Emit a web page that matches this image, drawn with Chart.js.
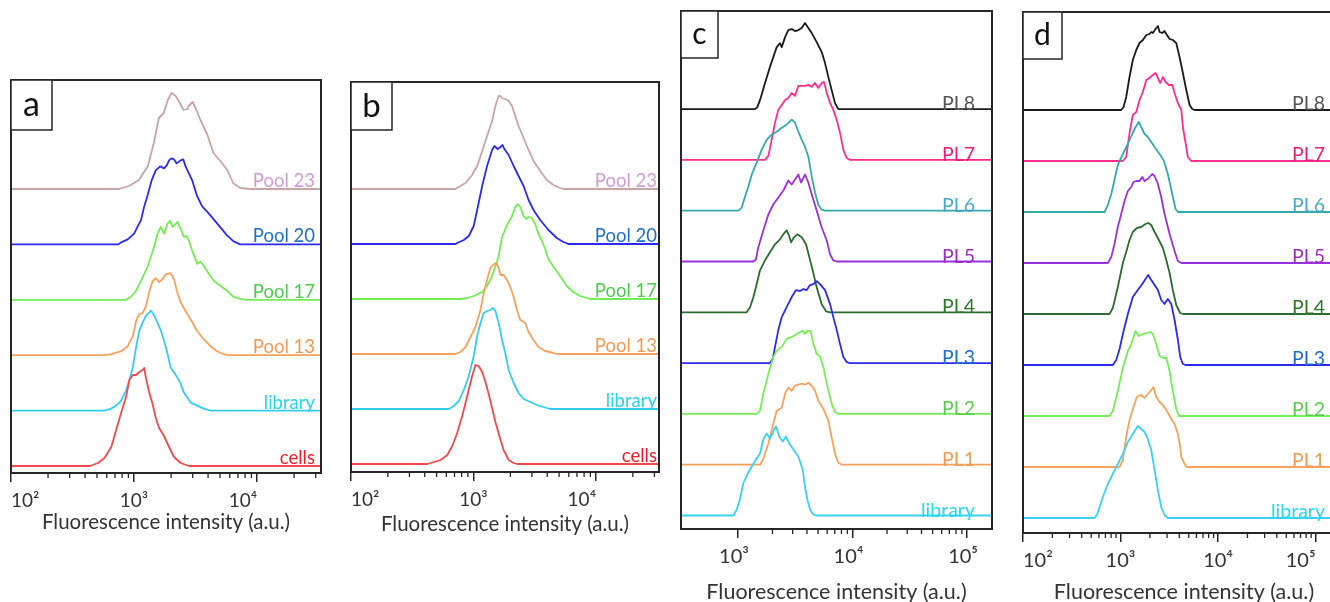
<!DOCTYPE html>
<html>
<head>
<meta charset="utf-8">
<script src="https://cdn.jsdelivr.net/npm/chart.js"></script>
<style>
    body { margin: 0; width: 1330px; height: 602px; overflow: hidden; background: #fff; position: relative; }
    .painel { position: absolute; }
</style>
</head>
<body>
<div class="painel" style="left:0px;top:70px;width:330px;height:465px"><canvas id="graficoA"></canvas></div>
<div class="painel" style="left:340px;top:70px;width:330px;height:467px"><canvas id="graficoB"></canvas></div>
<div class="painel" style="left:670px;top:0px;width:330px;height:605px"><canvas id="graficoC"></canvas></div>
<div class="painel" style="left:1000px;top:0px;width:350px;height:605px"><canvas id="graficoD"></canvas></div>
<script>

// curvas: [log10 da intensidade, contagem]
var aCells = [[2.640,0],[2.707,3],[2.760,8],[2.815,19],[2.855,36],[2.895,53],[2.935,69],[2.962,86],[2.990,91],[3.016,91],[3.043,94],[3.070,96],[3.083,98],[3.097,88],[3.123,74],[3.151,62],[3.177,48],[3.204,38],[3.244,30],[3.285,19],[3.325,9],[3.379,3],[3.446,0]];
var aLibrary = [[2.760,0],[2.815,2],[2.855,5],[2.895,10],[2.935,20],[2.962,30],[2.990,43],[3.016,63],[3.043,80],[3.070,88],[3.097,95],[3.123,98],[3.137,100],[3.164,95],[3.191,88],[3.218,80],[3.244,70],[3.272,57],[3.298,43],[3.325,38],[3.352,33],[3.379,27],[3.406,18],[3.433,13],[3.460,8],[3.514,5],[3.567,2],[3.621,0]];
var aPool13 = [[2.774,0],[2.815,1],[2.895,4],[2.949,9],[2.990,19],[3.016,34],[3.043,41],[3.070,42],[3.097,49],[3.123,63],[3.151,74],[3.177,77],[3.204,73],[3.231,76],[3.258,81],[3.298,82],[3.325,76],[3.352,63],[3.379,53],[3.419,44],[3.460,36],[3.514,24],[3.567,16],[3.621,9],[3.675,4],[3.728,1],[3.766,0]];
var aPool17 = [[2.935,0],[2.976,3],[3.016,9],[3.056,19],[3.110,33],[3.164,53],[3.191,66],[3.218,73],[3.244,66],[3.272,76],[3.293,79],[3.312,73],[3.333,75],[3.352,78],[3.379,71],[3.406,63],[3.427,64],[3.446,59],[3.473,49],[3.514,36],[3.540,38],[3.567,34],[3.607,26],[3.648,19],[3.702,14],[3.756,9],[3.809,3],[3.863,1],[3.917,0]];
var aPool20 = [[2.869,0],[2.895,2],[2.949,5],[3.002,11],[3.030,18],[3.056,24],[3.083,38],[3.110,49],[3.143,64],[3.177,74],[3.212,78],[3.244,76],[3.266,79],[3.285,84],[3.304,86],[3.325,85],[3.347,81],[3.379,84],[3.401,85],[3.419,78],[3.446,71],[3.473,64],[3.514,48],[3.554,38],[3.607,31],[3.675,21],[3.756,9],[3.809,3],[3.863,0]];
var aPool23 = [[2.879,0],[2.960,3],[3.040,9],[3.113,23],[3.161,46],[3.202,71],[3.242,76],[3.274,89],[3.306,96],[3.339,93],[3.363,88],[3.403,79],[3.435,80],[3.444,83],[3.476,87],[3.500,81],[3.540,69],[3.597,54],[3.645,36],[3.702,28],[3.758,19],[3.806,6],[3.863,1],[3.944,0]];

var bCells = [[2.624,0],[2.677,2],[2.732,4],[2.786,9],[2.827,18],[2.867,31],[2.908,48],[2.949,68],[2.989,88],[3.016,99],[3.043,98],[3.071,92],[3.098,82],[3.124,70],[3.152,56],[3.179,42],[3.214,27],[3.246,14],[3.287,4],[3.328,1],[3.355,0]];
var bLibrary = [[2.799,0],[2.840,3],[2.880,8],[2.921,19],[2.962,33],[3.002,53],[3.030,73],[3.057,86],[3.084,96],[3.111,98],[3.138,99],[3.160,101],[3.179,98],[3.206,86],[3.233,69],[3.260,56],[3.287,39],[3.328,26],[3.368,16],[3.409,10],[3.463,7],[3.518,4],[3.572,2],[3.626,0]];
var bPool13 = [[2.854,0],[2.894,2],[2.935,7],[2.976,17],[3.016,27],[3.057,44],[3.084,61],[3.111,74],[3.138,86],[3.160,89],[3.187,91],[3.206,86],[3.220,79],[3.246,79],[3.274,74],[3.301,67],[3.328,57],[3.355,44],[3.382,34],[3.423,31],[3.450,22],[3.490,14],[3.531,7],[3.585,3],[3.653,1],[3.680,0]];
var bPool17 = [[2.894,0],[2.949,1],[3.002,3],[3.071,7],[3.111,13],[3.152,23],[3.206,43],[3.233,62],[3.260,70],[3.287,77],[3.315,83],[3.341,92],[3.360,95],[3.382,92],[3.409,83],[3.431,80],[3.450,82],[3.477,81],[3.504,75],[3.531,65],[3.559,58],[3.585,50],[3.612,40],[3.653,32],[3.707,23],[3.762,13],[3.815,7],[3.870,3],[3.924,1],[3.951,0]];
var bPool20 = [[2.854,0],[2.867,1],[2.921,4],[2.962,8],[3.002,18],[3.030,34],[3.071,58],[3.111,78],[3.152,94],[3.171,98],[3.198,95],[3.220,97],[3.238,99],[3.252,95],[3.287,89],[3.328,78],[3.368,68],[3.409,58],[3.450,44],[3.490,34],[3.545,24],[3.612,14],[3.680,6],[3.734,2],[3.775,0]];
var bPool23 = [[2.854,0],[2.880,2],[2.935,6],[2.989,14],[3.030,23],[3.071,38],[3.111,53],[3.152,68],[3.179,83],[3.206,93],[3.220,93],[3.233,91],[3.260,90],[3.287,88],[3.315,83],[3.341,73],[3.368,63],[3.409,51],[3.450,39],[3.490,28],[3.545,18],[3.599,9],[3.653,4],[3.707,1],[3.734,0]];

var cLibrary = [[2.959,0],[2.989,6],[3.017,16],[3.046,32],[3.081,41],[3.120,49],[3.157,56],[3.192,62],[3.221,76],[3.251,82],[3.279,77],[3.308,84],[3.332,89],[3.361,79],[3.390,74],[3.419,79],[3.448,72],[3.483,66],[3.527,59],[3.565,46],[3.585,29],[3.605,16],[3.629,6],[3.658,1],[3.687,0]];
var cPL1 = [[3.192,0],[3.221,6],[3.265,21],[3.308,41],[3.338,54],[3.382,57],[3.411,71],[3.439,77],[3.469,74],[3.498,79],[3.527,80],[3.556,81],[3.585,80],[3.614,82],[3.644,79],[3.673,74],[3.701,64],[3.745,56],[3.789,44],[3.818,27],[3.847,11],[3.876,2],[3.906,0]];
var cPL2 = [[3.163,0],[3.192,3],[3.221,20],[3.265,40],[3.308,57],[3.338,63],[3.382,67],[3.425,75],[3.469,77],[3.513,80],[3.542,82],[3.565,83],[3.585,80],[3.605,83],[3.635,83],[3.658,70],[3.687,60],[3.716,57],[3.745,47],[3.775,30],[3.818,10],[3.847,2],[3.876,0]];
var cPL3 = [[3.279,0],[3.303,4],[3.323,16],[3.352,33],[3.382,46],[3.425,56],[3.469,66],[3.507,73],[3.542,72],[3.570,74],[3.600,73],[3.629,78],[3.658,79],[3.687,82],[3.716,79],[3.760,73],[3.804,59],[3.832,46],[3.862,33],[3.891,19],[3.920,6],[3.949,1],[3.978,0]];
var cPL4 = [[3.076,0],[3.105,5],[3.134,15],[3.163,28],[3.192,42],[3.236,52],[3.279,60],[3.323,68],[3.367,73],[3.402,79],[3.425,82],[3.445,77],[3.463,70],[3.489,75],[3.518,78],[3.556,75],[3.594,68],[3.623,55],[3.652,42],[3.687,25],[3.731,8],[3.769,1],[3.804,0]];
var cPL5 = [[3.134,0],[3.157,2],[3.177,14],[3.221,31],[3.265,47],[3.308,57],[3.352,64],[3.396,71],[3.439,81],[3.469,77],[3.498,82],[3.527,87],[3.550,79],[3.585,87],[3.614,79],[3.644,67],[3.687,51],[3.731,34],[3.775,21],[3.804,7],[3.832,1],[3.862,0]];
var cPL6 = [[3.003,0],[3.032,3],[3.061,14],[3.090,24],[3.120,36],[3.163,48],[3.207,61],[3.251,71],[3.294,76],[3.338,79],[3.382,83],[3.425,86],[3.469,91],[3.498,88],[3.527,79],[3.556,71],[3.585,64],[3.614,54],[3.644,34],[3.673,18],[3.701,6],[3.731,1],[3.760,0]];
var cPL7 = [[3.236,0],[3.265,4],[3.294,20],[3.323,37],[3.352,50],[3.382,55],[3.411,60],[3.439,62],[3.469,67],[3.498,64],[3.527,74],[3.556,74],[3.585,74],[3.614,75],[3.644,73],[3.673,77],[3.701,72],[3.731,77],[3.751,78],[3.775,67],[3.804,57],[3.832,50],[3.862,40],[3.891,27],[3.920,10],[3.949,2],[3.978,0]];
var cPL8 = [[3.148,0],[3.169,2],[3.198,11],[3.236,26],[3.279,42],[3.308,52],[3.338,62],[3.367,66],[3.382,62],[3.411,72],[3.439,79],[3.469,80],[3.498,78],[3.527,79],[3.556,81],[3.585,86],[3.614,81],[3.644,76],[3.687,67],[3.731,57],[3.760,46],[3.789,32],[3.818,19],[3.847,6],[3.876,0]];

var dLibrary = [[2.733,0],[2.757,3],[2.785,11],[2.818,21],[2.870,34],[2.921,44],[2.972,54],[3.024,64],[3.075,76],[3.126,84],[3.177,92],[3.212,89],[3.246,86],[3.280,79],[3.315,68],[3.349,48],[3.383,28],[3.417,11],[3.451,3],[3.485,0]];
var dPL1 = [[2.990,0],[3.024,7],[3.058,30],[3.092,47],[3.133,60],[3.167,70],[3.212,72],[3.246,69],[3.280,73],[3.315,77],[3.338,80],[3.366,70],[3.400,65],[3.434,62],[3.469,57],[3.520,48],[3.554,43],[3.588,33],[3.612,20],[3.623,10],[3.656,3],[3.680,0]];
var dPL2 = [[2.887,0],[2.921,5],[2.972,25],[3.024,48],[3.075,65],[3.110,72],[3.154,85],[3.188,80],[3.229,82],[3.270,83],[3.305,84],[3.331,82],[3.366,72],[3.400,60],[3.441,58],[3.469,58],[3.503,45],[3.536,25],[3.571,7],[3.598,0]];
var dPL3 = [[2.921,0],[2.956,5],[2.990,16],[3.024,31],[3.075,51],[3.126,68],[3.177,75],[3.223,81],[3.256,86],[3.284,90],[3.315,85],[3.349,80],[3.383,75],[3.417,65],[3.451,61],[3.485,66],[3.520,61],[3.554,45],[3.588,25],[3.612,8],[3.639,1],[3.667,0]];
var dPL4 = [[2.887,0],[2.921,6],[2.972,27],[3.024,51],[3.058,62],[3.092,74],[3.126,82],[3.167,86],[3.212,87],[3.256,90],[3.284,91],[3.315,89],[3.349,82],[3.393,74],[3.434,66],[3.469,54],[3.503,41],[3.536,24],[3.571,9],[3.612,1],[3.639,0]];
var dPL5 = [[2.870,0],[2.905,6],[2.938,19],[2.972,36],[3.007,49],[3.041,62],[3.075,72],[3.110,76],[3.133,81],[3.161,82],[3.195,82],[3.223,86],[3.246,82],[3.280,84],[3.325,89],[3.349,87],[3.383,79],[3.417,66],[3.451,49],[3.503,29],[3.554,12],[3.588,2],[3.623,0]];
var dPL6 = [[2.836,0],[2.870,7],[2.905,18],[2.938,32],[2.972,47],[3.024,58],[3.075,68],[3.120,78],[3.154,85],[3.188,90],[3.212,85],[3.246,78],[3.280,75],[3.315,70],[3.349,65],[3.400,58],[3.441,52],[3.485,38],[3.530,18],[3.564,3],[3.588,0]];
var dPL7 = [[3.024,0],[3.058,4],[3.092,28],[3.126,46],[3.161,49],[3.195,61],[3.229,69],[3.264,81],[3.297,83],[3.331,86],[3.359,88],[3.383,83],[3.407,78],[3.434,84],[3.462,79],[3.495,76],[3.530,76],[3.554,68],[3.588,58],[3.623,51],[3.639,34],[3.667,18],[3.690,4],[3.725,0]];
var dPL8 = [[3.007,0],[3.031,3],[3.058,13],[3.092,33],[3.126,50],[3.161,60],[3.195,67],[3.229,70],[3.264,75],[3.297,76],[3.315,78],[3.331,77],[3.359,81],[3.383,84],[3.400,78],[3.428,77],[3.451,79],[3.475,75],[3.503,71],[3.536,70],[3.571,67],[3.605,53],[3.639,37],[3.674,20],[3.708,5],[3.735,1],[3.759,0]];

var nomesAB = ['cells', 'library', 'Pool 13', 'Pool 17', 'Pool 20', 'Pool 23'];
var nomesCD = ['library', 'PL1', 'PL2', 'PL3', 'PL4', 'PL5', 'PL6', 'PL7', 'PL8'];

var potenciasAB = [100, 1000, 10000];
var rotulosAB = ['10²', '10³', '10⁴'];
var potenciasC = [1000, 10000, 100000];
var rotulosC = ['10³', '10⁴', '10⁵'];
var potenciasD = [100, 1000, 10000, 100000];
var rotulosD = ['10²', '10³', '10⁴', '10⁵'];

var tituloX = 'Fluorescence intensity (a.u.)';

var coresLinhaAB = ['#f2494b', '#34cdf2', '#f7a25c', '#72ee52', '#2b2bef', '#c8a4a7'];
var coresNomeAB = ['#ee1c25', '#26d4f0', '#f09a55', '#4fcc4f', '#1e6fc8', '#d29ad6'];
var coresLinhaCD = ['#38d2f4', '#f7a25c', '#74ee55', '#2b2bef', '#2e6b30', '#9a2fe0', '#35a9aa', '#ff2d8c', '#1a1a1a'];
var coresNomeCD = ['#28d8f0', '#f09a55', '#5ccc4c', '#1e6fc8', '#2a7a2a', '#9b2fc0', '#4aa8c8', '#f01c78', '#555555'];

const molduraPlugin = {
    id: 'moldura',
    afterDatasetsDraw(chart, args, opts) {
        const ctx = chart.ctx;
        const area = chart.chartArea;
        const eixoX = chart.scales.x;
        const eixoY = chart.scales.y;
        ctx.save();

        ctx.strokeStyle = '#262626';
        ctx.lineWidth = 2;
        ctx.strokeRect(area.left, area.top, area.right - area.left, area.bottom - area.top);

        // marcas menores do eixo log
        ctx.lineWidth = 1.3;
        ctx.beginPath();
        for (let dec = Math.ceil(Math.log10(eixoX.min) - 1e-9); Math.pow(10, dec) < eixoX.max; dec++) {
            for (let m = 2; m <= 9; m++) {
                const v = m * Math.pow(10, dec);
                if (v > eixoX.max) break;
                const px = eixoX.getPixelForValue(v);
                ctx.moveTo(px, area.bottom);
                ctx.lineTo(px, area.bottom + 5);
            }
        }
        ctx.stroke();

        // caixa com a letra do painel
        ctx.lineWidth = 1.5;
        ctx.fillStyle = '#fff';
        ctx.fillRect(area.left, area.top, opts.caixa[0], opts.caixa[1]);
        ctx.strokeRect(area.left, area.top, opts.caixa[0], opts.caixa[1]);
        ctx.fillStyle = '#111';
        ctx.font = opts.fonteLetra + 'px Lato';
        ctx.textAlign = 'center';
        ctx.textBaseline = 'middle';
        ctx.fillText(opts.letra, area.left + opts.caixa[0] / 2, area.top + opts.caixa[1] / 2);

        // nome de cada curva
        ctx.font = opts.fonteNome + 'px Lato';
        ctx.textAlign = 'right';
        ctx.textBaseline = 'alphabetic';
        for (let i = 0; i < opts.nomes.length; i++) {
            ctx.fillStyle = opts.coresNome[i];
            ctx.fillText(opts.nomes[i], area.right - opts.recuo, eixoY.getPixelForValue(opts.niveis[i]) + opts.dy);
        }
        ctx.restore();
    }
};

function montarDataset(pontos, nivel, cor, xMin, xMax) {
    const dados = [{ x: xMin, y: nivel }];
    for (let i = 0; i < pontos.length; i++) {
        dados.push({ x: Math.pow(10, pontos[i][0]), y: nivel + pontos[i][1] });
    }
    dados.push({ x: xMax, y: nivel });
    return {
        data: dados,
        borderColor: cor,
        borderWidth: 1.8,
        pointRadius: 0,
        tension: 0,
        fill: false,
        borderJoinStyle: 'round'
    };
}

function criarPainel(id, p) {
    const niveis = [];
    const datasets = [];
    for (let i = 0; i < p.curvas.length; i++) {
        niveis.push(p.base + p.passo * i);
        datasets.push(montarDataset(p.curvas[i], niveis[i], p.coresLinha[i], p.xMin, p.xMax));
    }

    const config = {
        type: 'line',
        data: { datasets: datasets },
        plugins: [molduraPlugin],
        options: {
            responsive: true,
            maintainAspectRatio: false,
            animation: false,
            layout: { padding: p.padding },
            plugins: {
                legend: { display: false },
                tooltip: { enabled: false },
                moldura: {
                    letra: p.letra, caixa: p.caixa, fonteLetra: p.fonteLetra,
                    nomes: p.nomes, coresNome: p.coresNome, niveis: niveis,
                    fonteNome: p.fonteNome, recuo: p.recuo, dy: p.dy
                }
            },
            scales: {
                x: {
                    type: 'logarithmic',
                    min: p.xMin,
                    max: p.xMax,
                    afterBuildTicks: function (eixo) {
                        eixo.ticks = p.potencias.map(function (v) { return { value: v }; });
                    },
                    afterFit: function (eixo) { eixo.height = p.alturaEixo; },
                    grid: { display: true, drawOnChartArea: false, drawTicks: true, tickLength: 9, color: '#262626', lineWidth: 1.5 },
                    border: { display: true, color: '#262626', width: 2 },
                    ticks: {
                        autoSkip: false,
                        maxRotation: 0,
                        align: p.alinhar,
                        labelOffset: p.deslocRotulo,
                        padding: p.padTick,
                        color: '#333',
                        font: { family: 'Lato', size: p.fonteTick },
                        callback: function (valor, indice) { return p.rotulos[indice]; }
                    },
                    title: {
                        display: true,
                        text: tituloX,
                        color: '#333',
                        padding: 0,
                        font: { family: 'Lato', size: p.fonteTitulo }
                    }
                },
                y: { display: false, min: 0, max: p.altura }
            }
        }
    };

    return new Chart(document.getElementById(id), config);
}

const graficoA = criarPainel('graficoA', {
    curvas: [aCells, aLibrary, aPool13, aPool17, aPool20, aPool23],
    nomes: nomesAB, coresLinha: coresLinhaAB, coresNome: coresNomeAB,
    potencias: potenciasAB, rotulos: rotulosAB,
    xMin: 100, xMax: 33100, altura: 393, base: 7, passo: 55.4,
    padding: { left: 11, right: 9, top: 10, bottom: 0 }, alturaEixo: 62,
    alinhar: 'inner', deslocRotulo: 0, padTick: 7, fonteTick: 19, fonteTitulo: 20.5,
    letra: 'a', caixa: [41, 50], fonteLetra: 34, fonteNome: 18.5, recuo: 6, dy: -2
});

const graficoB = criarPainel('graficoB', {
    curvas: [bCells, bLibrary, bPool13, bPool17, bPool20, bPool23],
    nomes: nomesAB, coresLinha: coresLinhaAB, coresNome: coresNomeAB,
    potencias: potenciasAB, rotulos: rotulosAB,
    xMin: 100, xMax: 32700, altura: 390, base: 8, passo: 55,
    padding: { left: 11, right: 11, top: 12, bottom: 0 }, alturaEixo: 65,
    alinhar: 'inner', deslocRotulo: 0, padTick: 7, fonteTick: 19, fonteTitulo: 20.5,
    letra: 'b', caixa: [41, 48], fonteLetra: 33, fonteNome: 18.5, recuo: 2, dy: -2
});

const graficoC = criarPainel('graficoC', {
    curvas: [cLibrary, cPL1, cPL2, cPL3, cPL4, cPL5, cPL6, cPL7, cPL8],
    nomes: nomesCD, coresLinha: coresLinhaCD, coresNome: coresNomeCD,
    potencias: potenciasC, rotulos: rotulosC,
    xMin: 318, xMax: 165000, altura: 518, base: 13.5, passo: 50.8,
    padding: { left: 11, right: 8, top: 11, bottom: 0 }, alturaEixo: 76,
    alinhar: 'center', deslocRotulo: -4, padTick: 7, fonteTick: 20, fonteTitulo: 21.5,
    letra: 'c', caixa: [37, 47], fonteLetra: 30, fonteNome: 19.5, recuo: 17, dy: 1
});

const graficoD = criarPainel('graficoD', {
    curvas: [dLibrary, dPL1, dPL2, dPL3, dPL4, dPL5, dPL6, dPL7, dPL8],
    nomes: nomesCD, coresLinha: coresLinhaCD, coresNome: coresNomeCD,
    potencias: potenciasD, rotulos: rotulosD,
    xMin: 100, xMax: 200000, altura: 521, base: 15, passo: 51,
    padding: { left: 23, right: 5, top: 12, bottom: 0 }, alturaEixo: 72,
    alinhar: 'inner', deslocRotulo: 0, padTick: 7, fonteTick: 20, fonteTitulo: 21.5,
    letra: 'd', caixa: [39, 47], fonteLetra: 30, fonteNome: 19.5, recuo: 20, dy: 0
});

</script>
</body>
</html>
